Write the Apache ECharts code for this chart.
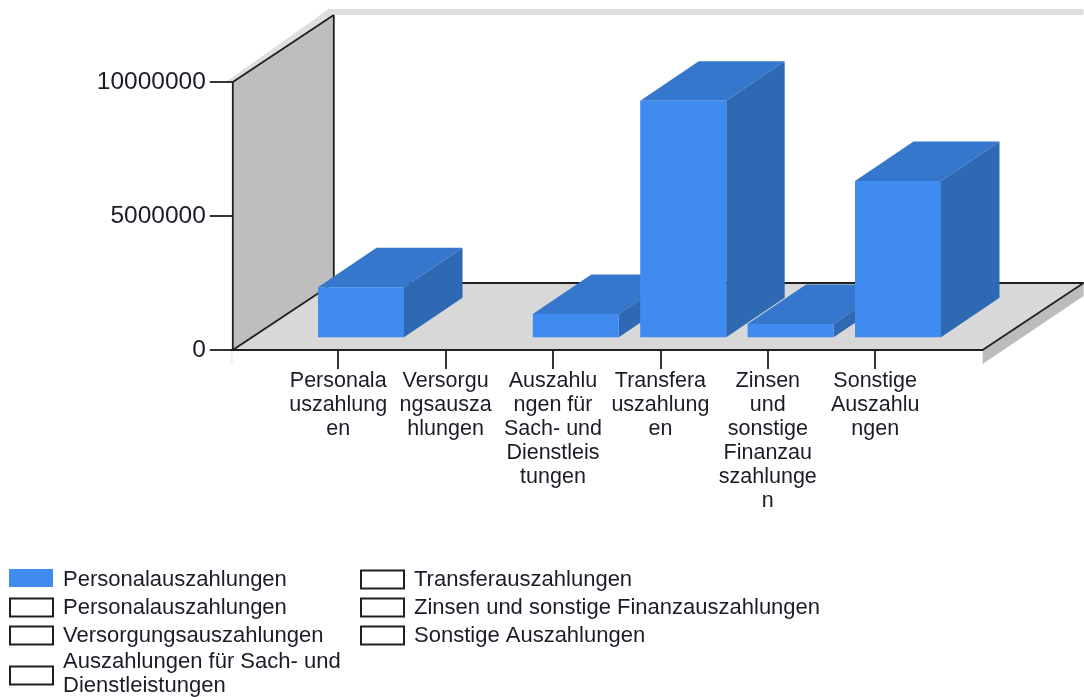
<!DOCTYPE html>
<html><head><meta charset="utf-8">
<style>html,body{margin:0;padding:0;background:#fff}#c{width:1084px;height:697px}</style>
<script src="https://cdn.jsdelivr.net/npm/echarts@6/dist/echarts.min.js"></script>
</head><body><div id="c"></div>
<script>
const categories = ['', 'Personala\nuszahlung\nen', 'Versorgu\nngsausza\nhlungen', 'Auszahlu\nngen für\nSach- und\nDienstleis\ntungen', 'Transfera\nuszahlung\nen', 'Zinsen\nund\nsonstige\nFinanzau\nszahlunge\nn', 'Sonstige\nAuszahlu\nngen', ''];
const barValues = [1866000, 0, 870000, 8830000, 500000, 5830000];
const yTicks = [0, 5000000, 10000000];
const legendCol1 = ['Personalauszahlungen', 'Personalauszahlungen', 'Versorgungsauszahlungen', 'Auszahlungen für Sach- und\nDienstleistungen'];
const legendCol2 = ['Transferauszahlungen', 'Zinsen und sonstige Finanzauszahlungen', 'Sonstige Auszahlungen'];

const FONT = '"Liberation Sans", Arial, sans-serif';
const TXT = '#1c1c28', LINE = '#1f1f1f';
const BLUE = '#3F8BF0', BLUE_TOP = '#3577CC', BLUE_SIDE = '#2F69B4';
const DX = 101, DY = -67;
const LW = 1.8;

function poly(pts, fill) { return {type:'polygon', shape:{points:pts}, style:{fill:fill}, silent:true}; }
function line(a, b) { return {type:'line', shape:{x1:a[0],y1:a[1],x2:b[0],y2:b[1]}, style:{stroke:LINE,lineWidth:LW}, silent:true}; }

function renderWalls(params, api) {
  const cs = params.coordSys;
  const L = cs.x + 2, B = cs.y + cs.height, T = cs.y, R = cs.x + cs.width;
  const Bk = B + DY, Tk = T + DY, Lk = L + DX, Rk = R + DX;
  return {type:'group', children:[
    poly([[L-7,T],[Lk-5,Tk-6],[Rk,Tk-6],[Rk,Tk],[Lk,Tk],[L,T]], '#dedede'),
    poly([[R,B],[Rk,Bk],[Rk,Bk+13],[R,B+14]], '#bcbcbc'),
    poly([[L-2,B],[L,B],[L,B+14],[L-2,B+14]], '#f0f0f0'),
    poly([[L,T],[Lk,Tk],[Lk,Bk],[L,B]], '#bebebe'),
    poly([[L,B],[Lk,Bk],[Rk,Bk],[R,B]], '#d8d8d8'),
    line([L,T],[Lk,Tk]), line([Lk,Tk],[Lk,Bk]), line([L,B],[Lk,Bk]), line([Lk,Bk],[Rk,Bk]), line([R,B],[Rk,Bk]), line([L,T],[L,B])
  ]};
}

function renderBar(params, api) {
  const v = api.value(1);
  if (!v) return null;
  const top = api.coord([api.value(0), v]);
  const base = api.coord([api.value(0), 0]);
  const cx = base[0] + 22.8, bw = 86, dx = 58.5, dy = -39.5, lift = -12.7;
  const x0 = cx - bw/2, x1 = cx + bw/2, yb = base[1] + lift, yt = top[1] + lift;
  return {type:'group', children:[
    poly([[x0,yt],[x1,yt],[x1+dx,yt+dy],[x0+dx,yt+dy]], BLUE_TOP),
    poly([[x1,yt],[x1+dx,yt+dy],[x1+dx,yb+dy],[x1,yb]], BLUE_SIDE),
    {type:'rect', shape:{x:x0,y:yt,width:bw,height:yb-yt}, style:{fill:BLUE}, silent:true}
  ]};
}

function legendGraphics() {
  const out = [];
  const rows1 = [[569,580],[598,608],[626,636],[666,674]];
  const rows2 = [[570,580],[598,608],[626,636]];
  legendCol1.forEach((t,i) => {
    out.push({type:'rect', shape:{x:i===0?9:10,y:rows1[i][0]+(i===0?0:.5),width:i===0?44:43,height:18},
      style:i===0?{fill:BLUE}:{fill:'#fff',stroke:LINE,lineWidth:2}});
    out.push({type:'text', x:63, y:rows1[i][1], style:{text:t,font:'22px '+FONT,fill:TXT,textVerticalAlign:'middle',lineHeight:24}});
  });
  legendCol2.forEach((t,i) => {
    out.push({type:'rect', shape:{x:361,y:rows2[i][0]+.5,width:43,height:18}, style:{fill:'#fff',stroke:LINE,lineWidth:2}});
    out.push({type:'text', x:414, y:rows2[i][1], style:{text:t,font:'22px '+FONT,fill:TXT,textVerticalAlign:'middle'}});
  });
  return out;
}

const chart = echarts.init(document.getElementById('c'), null, {renderer:'canvas'});
chart.setOption({
  animation:false,
  backgroundColor:'#fff',
  grid:{left:230.8,top:82,width:751.8,height:268,containLabel:false},
  xAxis:{type:'category',data:categories,boundaryGap:false,
    axisLine:{lineStyle:{color:LINE,width:LW}},
    axisTick:{length:19,lineStyle:{color:LINE,width:LW},interval:(i,v)=>v!==''},
    axisLabel:{interval:0,color:TXT,fontFamily:FONT,fontSize:21.5,lineHeight:24,margin:19,hideOverlap:false},
    splitLine:{show:false}},
  yAxis:{type:'value',min:yTicks[0],max:yTicks[2],interval:yTicks[1],offset:-2,
    axisLine:{show:false},
    axisTick:{show:true,length:23,lineStyle:{color:LINE,width:LW}},
    axisLabel:{color:TXT,fontFamily:FONT,fontSize:24.5,margin:27,formatter:v=>String(v)},
    splitLine:{show:false}},
  graphic:legendGraphics(),
  series:[
    {type:'custom',name:'walls',z:-1,silent:true,data:[[0,0]],renderItem:renderWalls,clip:false},
    {type:'custom',name:'Personalauszahlungen',z:2,silent:true,clip:false,
      data:barValues.map((v,i)=>[i+1,v]),encode:{x:0,y:1},renderItem:renderBar}
  ]
});
</script></body></html>
